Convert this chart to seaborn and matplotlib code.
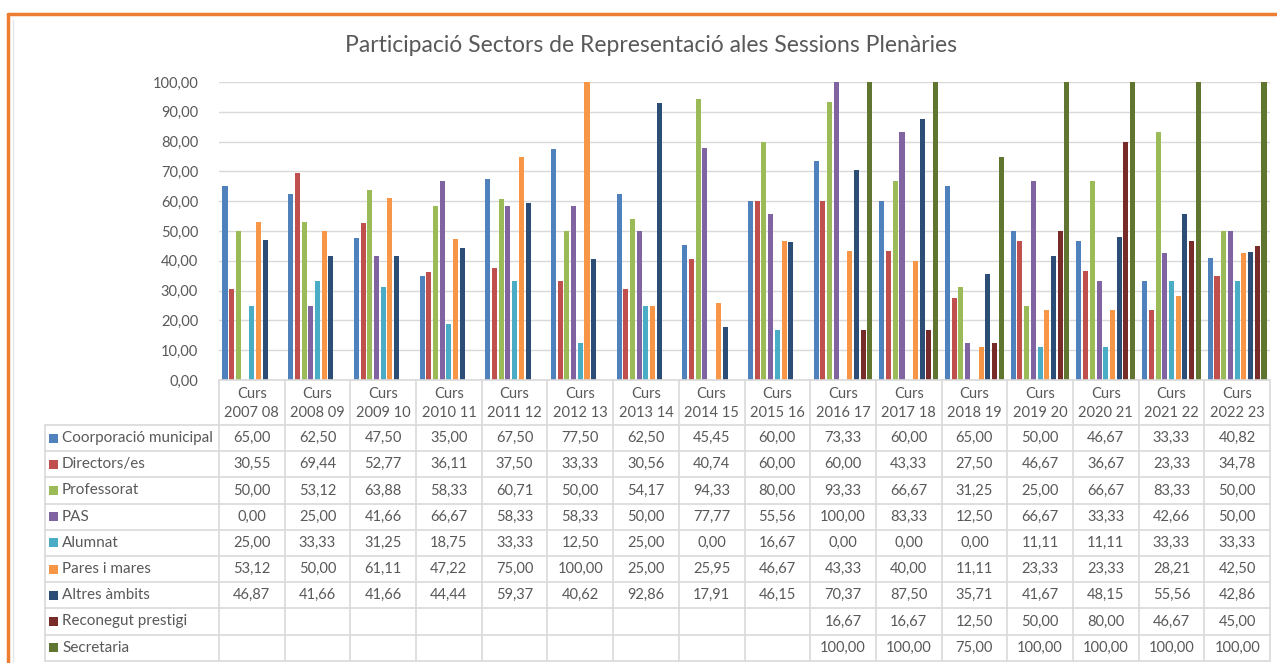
import numpy as np
import pandas as pd
import seaborn as sns
import matplotlib.pyplot as plt
from matplotlib.lines import Line2D
from matplotlib.patches import Rectangle
from matplotlib.transforms import blended_transform_factory

nan = np.nan

courses = ["2007 08", "2008 09", "2009 10", "2010 11", "2011 12", "2012 13",
           "2013 14", "2014 15", "2015 16", "2016 17", "2017 18", "2018 19",
           "2019 20", "2020 21", "2021 22", "2022 23"]

sectors = ["Coorporació municipal", "Directors/es", "Professorat", "PAS",
           "Alumnat", "Pares i mares", "Altres àmbits", "Reconegut prestigi",
           "Secretaria"]

corporacio = [65.00, 62.50, 47.50, 35.00, 67.50, 77.50, 62.50, 45.45,
              60.00, 73.33, 60.00, 65.00, 50.00, 46.67, 33.33, 40.82]
directors = [30.55, 69.44, 52.77, 36.11, 37.50, 33.33, 30.56, 40.74,
             60.00, 60.00, 43.33, 27.50, 46.67, 36.67, 23.33, 34.78]
professorat = [50.00, 53.12, 63.88, 58.33, 60.71, 50.00, 54.17, 94.33,
               80.00, 93.33, 66.67, 31.25, 25.00, 66.67, 83.33, 50.00]
pas = [0.00, 25.00, 41.66, 66.67, 58.33, 58.33, 50.00, 77.77,
       55.56, 100.00, 83.33, 12.50, 66.67, 33.33, 42.66, 50.00]
alumnat = [25.00, 33.33, 31.25, 18.75, 33.33, 12.50, 25.00, 0.00,
           16.67, 0.00, 0.00, 0.00, 11.11, 11.11, 33.33, 33.33]
pares = [53.12, 50.00, 61.11, 47.22, 75.00, 100.00, 25.00, 25.95,
         46.67, 43.33, 40.00, 11.11, 23.33, 23.33, 28.21, 42.50]
altres = [46.87, 41.66, 41.66, 44.44, 59.37, 40.62, 92.86, 17.91,
          46.15, 70.37, 87.50, 35.71, 41.67, 48.15, 55.56, 42.86]
reconegut = [nan, nan, nan, nan, nan, nan, nan, nan,
             nan, 16.67, 16.67, 12.50, 50.00, 80.00, 46.67, 45.00]
secretaria = [nan, nan, nan, nan, nan, nan, nan, nan,
              nan, 100.00, 100.00, 75.00, 100.00, 100.00, 100.00, 100.00]

series = [corporacio, directors, professorat, pas, alumnat, pares,
          altres, reconegut, secretaria]

colors = ["#4F81BD", "#C0504D", "#9BBB59", "#8064A2", "#4BACC6",
          "#F79646", "#2C4D75", "#772C2A", "#5F7530"]

rows = []
for name, vals in zip(sectors, series):
    for c, v in zip(courses, vals):
        rows.append({"curs": c, "sector": name, "valor": v})
df = pd.DataFrame(rows).dropna()

sns.set_style("white")
plt.rcParams['font.family'] = ['Lato', 'DejaVu Sans']
txt = "#595959"

W, H = 1277, 663
fig = plt.figure(figsize=(W / 100, H / 100), dpi=100)

def fx(x):
    return x / W

def fy(y):
    return 1 - y / H

ax = fig.add_axes([fx(219), fy(380), fx(1270) - fx(219), fy(82) - fy(380)])
sns.barplot(data=df, x="curs", y="valor", hue="sector", order=courses,
            hue_order=sectors, palette=colors, saturation=1, width=0.92,
            gap=0.25, dodge=True, legend=False, ax=ax, linewidth=0)

ax.set_xlim(-0.5, len(courses) - 0.5)
ax.set_ylim(0, 100)
ax.set_yticks(np.arange(0, 101, 10))
ax.set_yticklabels([f"{v:.2f}".replace(".", ",") for v in np.arange(0, 101, 10)],
                   fontsize=10.5, color=txt)
ax.tick_params(left=False, bottom=False, labelbottom=False, pad=11.5)
ax.set_xlabel("")
ax.set_ylabel("")
ax.grid(axis="y", color="#D9D9D9", linewidth=1)
ax.set_axisbelow(True)
for s in ax.spines.values():
    s.set_visible(False)

fig.text(fx(651), fy(46), "Participació Sectors de Representació ales Sessions Plenàries",
         ha="center", va="center", fontsize=16.5, color=txt)

# data table under the chart
tr = blended_transform_factory(ax.transData, fig.transFigure)
grid = "#D9D9D9"
x_first = -0.5
x_lab = x_first - (219 - 45) / ((1270 - 219) / len(courses))
x_end = len(courses) - 0.5
y_axis = 380
y_rows = [425 + 26.2 * i for i in range(len(sectors) + 1)]

def hline(y, x0, x1):
    fig.add_artist(Line2D([x0, x1], [fy(y), fy(y)], transform=tr,
                          color=grid, linewidth=1.2))

def vline(x, y0, y1):
    fig.add_artist(Line2D([x, x], [fy(y0), fy(y1)], transform=tr,
                          color=grid, linewidth=1.2))

hline(y_axis, x_first, x_end)
for y in y_rows:
    hline(y, x_lab, x_end)
for i in range(len(courses) + 1):
    vline(i - 0.5, y_axis, y_rows[-1])
vline(x_lab, y_rows[0], y_rows[-1])

for i, c in enumerate(courses):
    fig.text(i, fy(394), "Curs", transform=tr, ha="center", va="center",
             fontsize=10.5, color=txt)
    fig.text(i, fy(413), c, transform=tr, ha="center", va="center",
             fontsize=10.5, color=txt)

for r, (name, vals, col) in enumerate(zip(sectors, series, colors)):
    yc = (y_rows[r] + y_rows[r + 1]) / 2
    fig.add_artist(Rectangle((fx(49), fy(yc + 4.5)), fx(9), 9 / H,
                             transform=fig.transFigure, color=col, linewidth=0))
    fig.text(fx(62), fy(yc), name, ha="left", va="center", fontsize=11,
             color=txt)
    for i, v in enumerate(vals):
        if np.isnan(v):
            continue
        fig.text(i, fy(yc), f"{v:.2f}".replace(".", ","), transform=tr,
                 ha="center", va="center", fontsize=10.5, color=txt)

# orange frame
fig.add_artist(Line2D([fx(8), 1], [fy(14), fy(14)], color="#ED7D31", linewidth=2.5))
fig.add_artist(Line2D([fx(8), fx(8)], [fy(14), 0], color="#ED7D31", linewidth=2.5))
fig.add_artist(Line2D([fx(13), fx(13)], [fy(20), 0], color="#E6E6E6", linewidth=1))

fig.savefig("out.png", dpi=100)
